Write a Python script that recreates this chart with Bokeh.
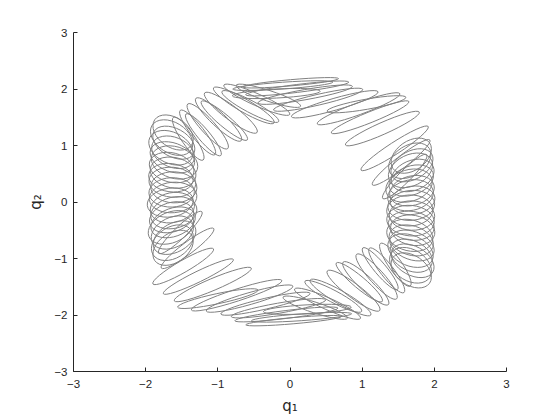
from bokeh.plotting import figure
from bokeh.models import Range1d, FixedTicker, ColumnDataSource
from bokeh.embed import file_html
from bokeh.resources import INLINE

# Trajectory loops: centre (q1, q2), long axis, short axis, tilt (deg)
# groups: top-left, top band, top-right, left band, bottom-left, bottom band, bottom-right, right band
loop_q1 = [
    -0.30, -0.46, -0.64, -0.82, -0.99, -1.14, -1.28, -1.41, -0.55, -0.91, -1.20,
    -0.10, 0.10, 0.21, 0.39, 0.62, -0.19, 0.01,
    0.95, 1.28, 1.45, 1.54, 1.59, 1.06, 1.11,
    -1.62, -1.64, -1.61, -1.65, -1.62, -1.63, -1.60, -1.64, -1.62, -1.65, -1.63, -1.61,
    -1.64, -1.62, -1.66, -1.63, -1.61, -1.64, -1.62, -1.65, -1.63, -1.60, -1.63, -1.62,
    -0.74, -1.07, -1.48, -1.42, -1.52, -1.00, -1.27,
    0.16, -0.05, -0.16, -0.34, -0.56, 0.24, 0.05,
    0.35, 0.52, 0.70, 0.88, 1.05, 1.20, 1.34, 1.46, 0.60, 0.96, 1.25,
    1.68, 1.66, 1.69, 1.67, 1.70, 1.68, 1.65, 1.69, 1.67, 1.70, 1.68, 1.66,
    1.69, 1.67, 1.68, 1.70, 1.66, 1.68, 1.69, 1.67, 1.68, 1.70, 1.67, 1.68,
]
loop_q2 = [
    1.88, 1.81, 1.71, 1.58, 1.46, 1.34, 1.23, 1.12, 1.69, 1.44, 1.19,
    2.06, 2.01, 1.90, 1.81, 1.73, 1.92, 2.11,
    1.65, 1.30, 0.95, 0.70, 0.45, 1.73, 1.50,
    1.23, 1.14, 1.05, 0.96, 0.88, 0.79, 0.70, 0.61, 0.52, 0.43, 0.35, 0.26,
    0.17, 0.08, -0.01, -0.10, -0.19, -0.27, -0.36, -0.45, -0.54, -0.63, -0.72, -0.81,
    -1.65, -1.46, -1.14, -0.82, -0.54, -1.71, -1.32,
    -2.04, -1.99, -1.88, -1.80, -1.71, -1.90, -2.10,
    -1.87, -1.80, -1.69, -1.57, -1.44, -1.32, -1.21, -1.11, -1.67, -1.42, -1.18,
    0.82, 0.73, 0.65, 0.56, 0.47, 0.38, 0.29, 0.20, 0.12, 0.03, -0.06, -0.15,
    -0.24, -0.33, -0.42, -0.50, -0.59, -0.68, -0.77, -0.86, -0.95, -1.04, -1.12, -1.21,
]
loop_w = [
    0.94, 1.00, 0.97, 0.91, 0.86, 0.83, 0.78, 0.72, 0.89, 0.83, 0.75,
    1.39, 1.44, 1.33, 1.27, 1.25, 1.22, 1.33,
    1.22, 1.12, 1.11, 1.01, 0.86, 1.11, 1.16,
    0.62, 0.64, 0.63, 0.65, 0.62, 0.64, 0.66, 0.63, 0.64, 0.62, 0.65, 0.64,
    0.63, 0.66, 0.64, 0.62, 0.65, 0.63, 0.64, 0.66, 0.62, 0.64, 0.63, 0.62,
    1.32, 1.16, 0.97, 0.91, 0.83, 1.14, 1.08,
    1.39, 1.44, 1.33, 1.27, 1.25, 1.22, 1.33,
    0.94, 1.00, 0.97, 0.91, 0.86, 0.83, 0.78, 0.72, 0.89, 0.83, 0.75,
    0.62, 0.64, 0.63, 0.65, 0.62, 0.64, 0.66, 0.63, 0.64, 0.62, 0.65, 0.64,
    0.63, 0.66, 0.64, 0.62, 0.65, 0.63, 0.64, 0.66, 0.62, 0.64, 0.63, 0.62,
]
loop_h = [
    0.19, 0.21, 0.23, 0.25, 0.25, 0.25, 0.23, 0.23, 0.21, 0.21, 0.21,
    0.12, 0.14, 0.18, 0.19, 0.21, 0.16, 0.11,
    0.21, 0.21, 0.21, 0.21, 0.21, 0.18, 0.19,
    0.52, 0.54, 0.50, 0.55, 0.53, 0.51, 0.56, 0.52, 0.54, 0.50, 0.53, 0.55,
    0.52, 0.54, 0.51, 0.53, 0.55, 0.52, 0.50, 0.54, 0.53, 0.51, 0.55, 0.52,
    0.21, 0.21, 0.21, 0.21, 0.21, 0.18, 0.19,
    0.12, 0.14, 0.18, 0.19, 0.21, 0.16, 0.11,
    0.19, 0.21, 0.23, 0.25, 0.25, 0.25, 0.23, 0.23, 0.21, 0.21, 0.21,
    0.52, 0.54, 0.50, 0.55, 0.53, 0.51, 0.56, 0.52, 0.54, 0.50, 0.53, 0.55,
    0.52, 0.54, 0.51, 0.53, 0.55, 0.52, 0.50, 0.54, 0.53, 0.51, 0.55, 0.52,
]
loop_angle = [
    -18, -24, -30, -37, -43, -48, -52, -55, -28, -40, -50,
    4, 7, 10, 13, 16, 3, 5,
    20, 24, 33, 38, 45, 10, 22,
    -35, -32, -29, -26, -23, -20, -17, -14, -11, -8, -5, -2,
    2, 5, 8, 11, 14, 17, 20, 23, 26, 29, 32, 35,
    18, 23, 30, 37, 44, 12, 26,
    4, 7, 10, 13, 16, 3, 5,
    -18, -24, -30, -37, -43, -48, -52, -55, -28, -40, -50,
    35, 32, 29, 26, 23, 20, 17, 14, 11, 8, 5, 2,
    -2, -5, -8, -11, -14, -17, -20, -23, -26, -29, -32, -35,
]

x_ticks = [-3, -2, -1, 0, 1, 2, 3]
y_ticks = [-3, -2, -1, 0, 1, 2, 3]
x_label = "q\u2081"
y_label = "q\u2082"

src = ColumnDataSource(dict(x=loop_q1, y=loop_q2, w=loop_w, h=loop_h, a=loop_angle))

p = figure(width=560, height=420, output_backend="svg", toolbar_location=None,
           x_range=Range1d(-3, 3), y_range=Range1d(-3, 3),
           min_border_left=73, min_border_right=54, min_border_top=32, min_border_bottom=49)

p.ellipse(x="x", y="y", width="w", height="h", angle="a", angle_units="deg",
          source=src, fill_color=None, line_color="#808080", line_width=1)

p.grid.visible = False
p.outline_line_color = None
p.background_fill_color = "white"
p.border_fill_color = "white"

for ax, ticks, label, standoff, lstand in ((p.xaxis[0], x_ticks, x_label, 8, 6),
                                           (p.yaxis[0], y_ticks, y_label, 6, 6)):
    ax.ticker = FixedTicker(ticks=ticks)
    ax.minor_tick_line_color = None
    ax.major_tick_in = 4
    ax.major_tick_out = 0
    ax.axis_line_color = "#262626"
    ax.major_tick_line_color = "#262626"
    ax.major_label_text_color = "#262626"
    ax.major_label_text_font = "Liberation Sans"
    ax.major_label_text_font_size = "11.5px"
    ax.major_label_standoff = standoff
    ax.axis_label = label
    ax.axis_label_text_font = "DejaVu Sans"
    ax.axis_label_text_font_style = "normal"
    ax.axis_label_text_font_size = "15px"
    ax.axis_label_text_color = "#262626"
    ax.axis_label_standoff = lstand

open("out.html", "w").write(file_html(p, INLINE))
